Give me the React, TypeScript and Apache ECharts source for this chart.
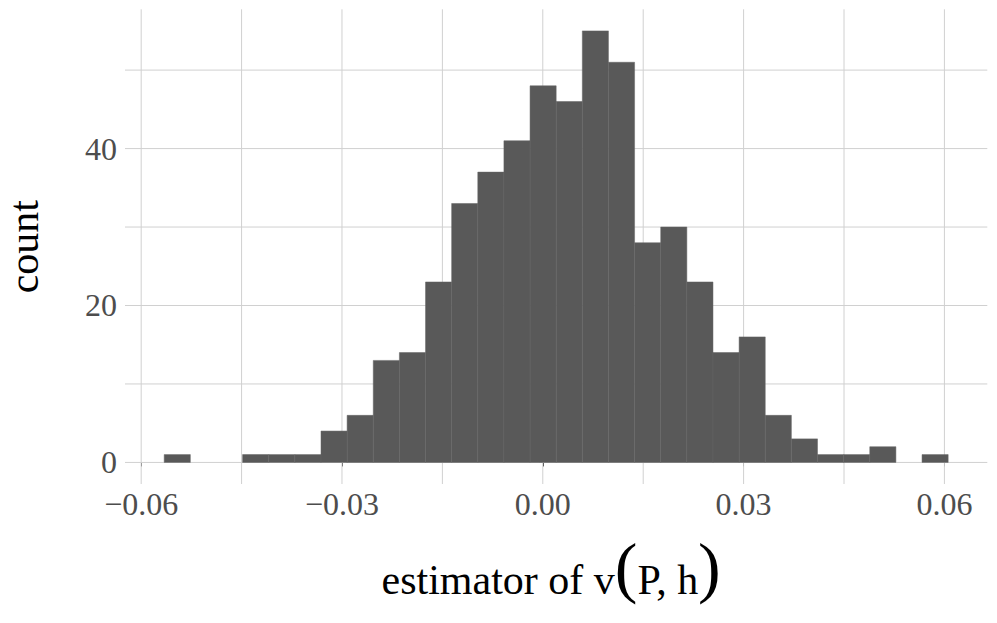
import React, { useEffect, useRef } from "react";
import * as echarts from "echarts";

// Histogram bins (30 bins)
const binStart = -0.05656;
const binWidth = 0.003904;
const counts = [1, 0, 0, 1, 1, 1, 4, 6, 13, 14, 23, 33, 37, 41, 48, 46, 55, 51, 28, 30, 23, 14, 16, 6, 3, 1, 1, 2, 0, 1];

// Axis ranges and tick values
const xRange = [-0.062416, 0.066406];
const yRange = [-2.75, 57.75];
const xMajorTicks = [-0.06, -0.03, 0, 0.03, 0.06];
const xMinorTicks = [-0.045, -0.015, 0.015, 0.045];
const yMajorTicks = [0, 20, 40];
const yMinorTicks = [10, 30, 50];

const xTitle = "estimator of v(P, h)";
const yTitle = "count";

const FONT = "Liberation Serif";

export default function App() {
  const ref = useRef<HTMLDivElement>(null);

  useEffect(() => {
    if (!ref.current) return;
    const chart = echarts.init(ref.current, undefined, { renderer: "svg" });

    const bins = counts.map((c, i) => [binStart + i * binWidth, binStart + (i + 1) * binWidth, c]);

    // grid lines: [axisIndex (0 = vertical line at x, 1 = horizontal line at y), value]
    const gridData: number[][] = [];
    [...xMajorTicks, ...xMinorTicks].forEach((v) => gridData.push([0, v]));
    [...yMajorTicks, ...yMinorTicks].forEach((v) => gridData.push([1, v]));

    const fmtX = (v: number) => {
      const s = Math.abs(v).toFixed(2);
      return v < -1e-9 ? "\u2212" + s : s;
    };

    const m = xTitle.match(/^(.*)\((.*)\)$/);
    const xName = m ? `{t|${m[1]}}{p|(}{t|${m[2]}}{p|)}` : xTitle;

    chart.setOption({
      animation: false,
      backgroundColor: "#ffffff",
      grid: {
        left: 125,
        right: 9.7,
        top: 9.3,
        bottom: 139,
        containLabel: false,
        outerBoundsMode: "none",
      },
      xAxis: {
        type: "value",
        min: xRange[0],
        max: xRange[1],
        splitLine: { show: false },
        axisLine: { show: false },
        axisTick: {
          show: true,
          customValues: xMajorTicks,
          length: 4,
          lineStyle: { color: "#333333", width: 1 },
        },
        axisLabel: {
          customValues: xMajorTicks,
          formatter: fmtX,
          fontFamily: FONT,
          fontSize: 32,
          color: "#4d4d4d",
          margin: 4,
          hideOverlap: false,
        },
        name: xName,
        nameLocation: "middle",
        nameGap: 57,
        nameTextStyle: {
          padding: [0, 10, 0, 0],
          rich: {
            t: { fontFamily: FONT, fontSize: 42, lineHeight: 42, color: "#000000", verticalAlign: "bottom" },
            p: { fontFamily: FONT, fontSize: 68, lineHeight: 60, color: "#000000", verticalAlign: "bottom" },
          },
        },
      },
      yAxis: {
        type: "value",
        min: yRange[0],
        max: yRange[1],
        splitLine: { show: false },
        axisLine: { show: false },
        axisTick: {
          show: true,
          customValues: yMajorTicks,
          length: 4,
          lineStyle: { color: "#333333", width: 1 },
        },
        axisLabel: {
          customValues: yMajorTicks,
          formatter: (v: number) => String(v),
          fontFamily: FONT,
          fontSize: 32,
          color: "#4d4d4d",
          margin: 8,
        },
        name: yTitle,
        nameLocation: "middle",
        nameRotate: 90,
        nameGap: 80,
        nameTextStyle: { fontFamily: FONT, fontSize: 42, color: "#000000", lineHeight: 42 },
      },
      series: [
        {
          type: "custom",
          z: 1,
          silent: true,
          data: gridData,
          encode: { x: -1, y: -1 },
          clip: false,
          renderItem: (params: any, api: any) => {
            const cs = params.coordSys;
            const which = api.value(0);
            const v = api.value(1);
            if (which === 0) {
              const px = api.coord([v, yRange[0]])[0];
              return {
                type: "line",
                shape: { x1: px, y1: cs.y, x2: px, y2: cs.y + cs.height },
                style: { stroke: "#d0d0d0", lineWidth: 1 },
                silent: true,
              };
            }
            const py = api.coord([xRange[0], v])[1];
            return {
              type: "line",
              shape: { x1: cs.x, y1: py, x2: cs.x + cs.width, y2: py },
              style: { stroke: "#d0d0d0", lineWidth: 1 },
              silent: true,
            };
          },
        },
        {
          type: "custom",
          z: 2,
          data: bins,
          encode: { x: [0, 1], y: 2 },
          renderItem: (params: any, api: any) => {
            const c = api.value(2);
            if (!c) return null;
            const p0 = api.coord([api.value(0), c]);
            const p1 = api.coord([api.value(1), 0]);
            return {
              type: "rect",
              shape: { x: p0[0], y: p0[1], width: p1[0] - p0[0], height: p1[1] - p0[1] },
              style: { fill: "#595959", stroke: "#656565", lineWidth: 0.5 },
            };
          },
        },
      ],
    });

    return () => chart.dispose();
  }, []);

  return (
    <div
      ref={ref}
      style={{ position: "fixed", left: 0, top: 0, width: 997, height: 623, background: "#fff" }}
    />
  );
}
